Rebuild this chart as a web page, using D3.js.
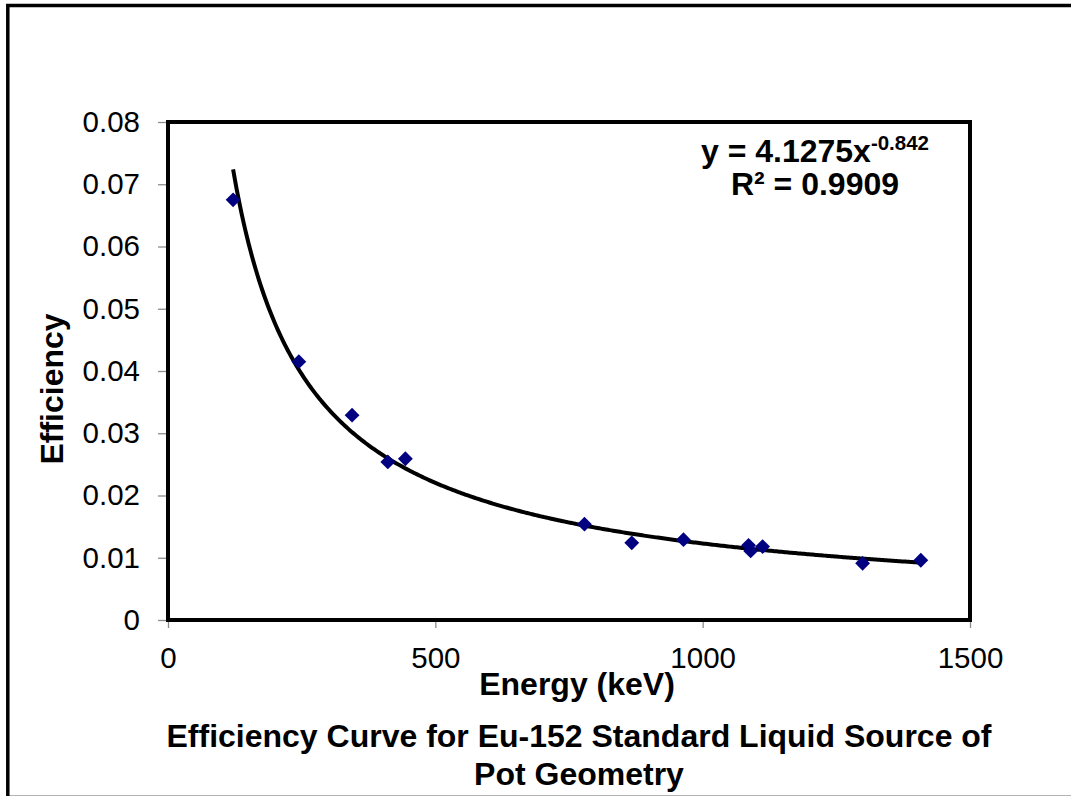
<!DOCTYPE html>
<html>
<head>
<meta charset="utf-8">
<script src="https://cdn.jsdelivr.net/npm/d3@7"></script>
<style>
  html, body { margin: 0; padding: 0; background: #ffffff; }
  svg { display: block; }
  text { font-family: "Liberation Sans", Arial, sans-serif; fill: #000; }
</style>
</head>
<body>
<svg id="chart" width="1071" height="796"></svg>
<script>
// Eu-152 gamma lines (keV) and measured full-energy-peak efficiencies
const energies = [121.78, 244.70, 344.28, 411.12, 443.96, 778.90, 867.38, 964.08, 1085.84, 1089.74, 1112.08, 1299.14, 1408.01];
const efficiency = [0.0675, 0.0415, 0.0329, 0.0254, 0.0259, 0.0154, 0.0124, 0.0129, 0.0120, 0.0111, 0.0118, 0.0091, 0.0096];

// Power-law trendline: eff = a * E^b
const fitCoeff = [4.1275];
const fitExponent = [-0.842];
const fitR2 = ["0.9909"];

const xTicks = [0, 500, 1000, 1500];
const yTicks = [0, 0.01, 0.02, 0.03, 0.04, 0.05, 0.06, 0.07, 0.08];

const svg = d3.select("#chart");
const W = 1071, H = 796;

// outer chart border
svg.append("line")
  .attr("x1", 8).attr("x2", W).attr("y1", 795.5).attr("y2", 795.5)
  .attr("stroke", "#b4b4b4").attr("stroke-width", 1);
svg.append("path")
  .attr("d", `M7.8,${H + 10} V5.5 H${W + 10}`)
  .attr("fill", "none").attr("stroke", "#000").attr("stroke-width", 3.5);

const plot = { left: 168, right: 970, top: 122, bottom: 620 };

const x = d3.scaleLinear().domain([0, 1500]).range([plot.left, plot.right]);
const y = d3.scaleLinear().domain([0, 0.08]).range([plot.bottom, plot.top]);

const fmtY = d => d === 0 ? "0" : d3.format(".2f")(d);

// axes (gray tick marks outside the frame)
const yAxis = svg.append("g")
  .attr("transform", `translate(${plot.left},0)`)
  .call(d3.axisLeft(y).tickValues(yTicks).tickFormat(fmtY).tickSize(10).tickPadding(18));
const xAxis = svg.append("g")
  .attr("transform", `translate(0,${plot.bottom})`)
  .call(d3.axisBottom(x).tickValues(xTicks).tickFormat(d3.format("d")).tickSize(8).tickPadding(19));

[yAxis, xAxis].forEach(g => {
  g.select(".domain").remove();
  g.selectAll(".tick line").attr("stroke", "#8c8c8c").attr("stroke-width", 1.3);
  g.selectAll(".tick text")
    .attr("font-family", "Liberation Sans, Arial, sans-serif")
    .attr("font-size", 29.5).attr("fill", "#000");
});

// plot frame
svg.append("rect")
  .attr("x", plot.left).attr("y", plot.top)
  .attr("width", plot.right - plot.left).attr("height", plot.bottom - plot.top)
  .attr("fill", "none").attr("stroke", "#000").attr("stroke-width", 4);

// trendline over the measured energy range
const eMin = d3.min(energies), eMax = d3.max(energies);
const curveE = d3.range(0, 401).map(i => eMin + (eMax - eMin) * i / 400);
const line = d3.line()
  .x(e => x(e))
  .y(e => y(fitCoeff[0] * Math.pow(e, fitExponent[0])))
  .curve(d3.curveLinear);
svg.append("path")
  .datum(curveE)
  .attr("d", line)
  .attr("fill", "none").attr("stroke", "#000").attr("stroke-width", 4)
  .attr("stroke-linejoin", "round");

// data markers: navy diamonds
const pts = energies.map((e, i) => ({ e, v: efficiency[i] }));
const diamond = d3.symbol().type(d3.symbolSquare).size(110);
svg.append("g").selectAll("path")
  .data(pts)
  .join("path")
  .attr("d", diamond)
  .attr("transform", d => `translate(${x(d.e)},${y(d.v)}) rotate(45)`)
  .attr("fill", "#000080");

// trendline equation
const eq = svg.append("text")
  .attr("x", 815).attr("y", 162)
  .attr("text-anchor", "middle")
  .attr("font-size", 32).attr("font-weight", "bold");
eq.append("tspan").text(`y = ${fitCoeff[0]}x`);
eq.append("tspan").attr("font-size", 20.5).attr("dy", -12).text(`${fitExponent[0]}`);

svg.append("text")
  .attr("x", 815).attr("y", 195)
  .attr("text-anchor", "middle")
  .attr("font-size", 32).attr("font-weight", "bold")
  .text(`R\u00B2 = ${fitR2[0]}`);

// axis titles
svg.append("text")
  .attr("transform", "translate(63,389) rotate(-90)")
  .attr("text-anchor", "middle")
  .attr("font-size", 32).attr("font-weight", "bold")
  .text("Efficiency");

svg.append("text")
  .attr("x", 577).attr("y", 695)
  .attr("text-anchor", "middle")
  .attr("font-size", 32).attr("font-weight", "bold")
  .text("Energy (keV)");

// chart title
const title = ["Efficiency Curve for Eu-152 Standard Liquid Source of", "Pot Geometry"];
svg.append("g").selectAll("text")
  .data(title)
  .join("text")
  .attr("x", 579)
  .attr("y", (d, i) => 747 + i * 38)
  .attr("text-anchor", "middle")
  .attr("font-size", 32).attr("font-weight", "bold")
  .text(d => d);
</script>
</body>
</html>
